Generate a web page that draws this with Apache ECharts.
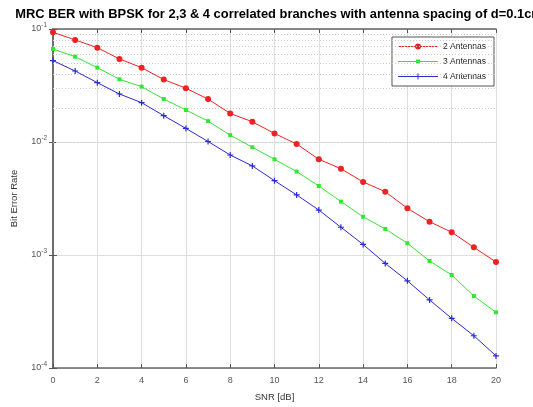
<!DOCTYPE html>
<html><head><meta charset="utf-8">
<script src="https://cdn.jsdelivr.net/npm/echarts@6/dist/echarts.min.js"></script>
<style>html,body{margin:0;padding:0;background:#fff}#c{width:533px;height:407px}</style>
</head><body><div id="c"></div>
<script>
const snr = [0,1,2,3,4,5,6,7,8,9,10,11,12,13,14,15,16,17,18,19,20];
const ber2 = [0.0935,0.080,0.0684,0.0543,0.0455,0.0357,0.0299,0.0240,0.0179,0.0151,0.0119,0.0096,0.00703,0.0058,0.00443,0.00363,0.00259,0.00197,0.00159,0.00117,0.000867];
const ber3 = [0.0665,0.0569,0.0455,0.0359,0.0309,0.0240,0.0192,0.0153,0.0115,0.00898,0.00703,0.00547,0.00408,0.00297,0.00218,0.00170,0.00127,0.000885,0.000665,0.000433,0.000311];
const ber4 = [0.0525,0.0425,0.0335,0.0266,0.0223,0.0171,0.0132,0.0101,0.00767,0.00614,0.00455,0.0034,0.0025,0.00176,0.00124,0.000843,0.000591,0.0004,0.000275,0.000193,0.000128];
const seriesNames = ['2 Antennas','3 Antennas','4 Antennas'];
const titleText = 'MRC BER with BPSK for 2,3 & 4 correlated branches with antenna spacing of d=0.1cm';
const yExp = {'0.0001':'-4','0.001':'-3','0.01':'-2','0.1':'-1'};

const minorVals = [];
[1e-4,1e-3,1e-2].forEach(d=>{for(let k=2;k<=9;k++) minorVals.push(+(d*k).toPrecision(3));});

const colors = ['#ee2222','#33e633','#2a2ad6'];
const plusPath = 'path://M4,0 L6,0 L6,4 L10,4 L10,6 L6,6 L6,10 L4,10 L4,6 L0,6 L0,4 L4,4 Z';
const font = 'Liberation Sans, Arial, sans-serif';
const bar = 'M0,3.5 L40,3.5 L40,4.5 L0,4.5 Z ';
const legendIcons = [
  'path://' + bar + 'M20,1 A3,3 0 1,1 20,7 A3,3 0 1,1 20,1 Z',
  'path://' + bar + 'M18,2 L22,2 L22,6 L18,6 Z',
  'path://' + bar + 'M19.5,1 L20.5,1 L20.5,3.5 L23,3.5 L23,4.5 L20.5,4.5 L20.5,7 L19.5,7 L19.5,4.5 L17,4.5 L17,3.5 L19.5,3.5 Z'
];

const chart = echarts.init(document.getElementById('c'), null, {renderer:'canvas'});
const mk = (name, data, color, symbol, size) => ({
  name, type:'line', data: snr.map((x,i)=>[x,data[i]]),
  xAxisIndex:0, yAxisIndex:0,
  lineStyle:{color, width:1, type:'solid'}, itemStyle:{color},
  symbol, symbolSize:size, showSymbol:true, z:5, animation:false
});
const gridMinor = {
  name:'minor', type:'line', data:[], xAxisIndex:0, yAxisIndex:0, silent:true, z:1,
  markLine:{
    silent:true, symbol:['none','none'], label:{show:false}, animation:false,
    lineStyle:{color:'#cacaca', type:[1,2], width:1},
    data: minorVals.map(v=>({yAxis:v}))
  }
};
const option = {
  animation:false,
  backgroundColor:'#fff',
  title:{text:titleText, left:274, top:3, textAlign:'center',
    textStyle:{fontFamily:font, fontSize:12.9, fontWeight:'bold', color:'#000'}},
  legend:{data:seriesNames.map((n,i)=>({name:n, icon:legendIcons[i]})), orient:'vertical', right:39, top:37,
    itemWidth:40, itemHeight:8, itemGap:6,
    padding:[5,8,5,6], borderColor:'#555', borderWidth:1, backgroundColor:'#fff',
    textStyle:{fontFamily:font, fontSize:8.5, color:'#222'}},
  grid:{left:53, right:37, top:29, bottom:39, show:false},
  xAxis:[{type:'value', min:0, max:20, interval:2, position:'bottom',
    name:'SNR [dB]', nameLocation:'middle', nameGap:24,
    nameTextStyle:{fontFamily:font, fontSize:9.5, color:'#333'},
    axisLine:{show:true, lineStyle:{color:'#666', width:1.5}},
    axisTick:{show:true, inside:true, length:4, lineStyle:{color:'#555'}},
    axisLabel:{fontFamily:font, fontSize:9, color:'#555', margin:8},
    splitLine:{show:true, lineStyle:{color:'#dedede', width:1}}},
   {type:'value', min:0, max:20, interval:2, position:'top',
    axisLine:{show:true, lineStyle:{color:'#666', width:1.5}},
    axisTick:{show:true, inside:true, length:4, lineStyle:{color:'#555'}},
    axisLabel:{show:false}, splitLine:{show:false}}],
  yAxis:[{type:'log', logBase:10, min:1e-4, max:1e-1, position:'left',
    name:'Bit Error Rate', nameLocation:'middle', nameGap:34,
    nameTextStyle:{fontFamily:font, fontSize:9.5, color:'#333'},
    axisLine:{show:true, lineStyle:{color:'#666', width:1.5}},
    axisTick:{show:true, inside:true, length:4, lineStyle:{color:'#555'}},
    axisLabel:{fontFamily:font, color:'#555', margin:6,
      formatter:v=>'{b|10}{s|'+(yExp[String(+v.toPrecision(3))]||'')+'}',
      rich:{b:{fontFamily:font, fontSize:9, color:'#555'}, s:{fontFamily:font, fontSize:6.5, color:'#555', padding:[0,0,7,0]}}},
    splitLine:{show:true, lineStyle:{color:'#dedede', width:1}}},
   {type:'log', logBase:10, min:1e-4, max:1e-1, position:'right',
    axisLine:{show:true, lineStyle:{color:'#666', width:1.5}},
    axisTick:{show:true, inside:true, length:4, lineStyle:{color:'#555'}},
    axisLabel:{show:false}, splitLine:{show:false}}],
  series:[gridMinor, mk(seriesNames[0], ber2, colors[0], 'circle', 6), mk(seriesNames[1], ber3, colors[1], 'rect', 4), mk(seriesNames[2], ber4, colors[2], plusPath, 6)]
};
chart.setOption(option);
</script></body></html>
